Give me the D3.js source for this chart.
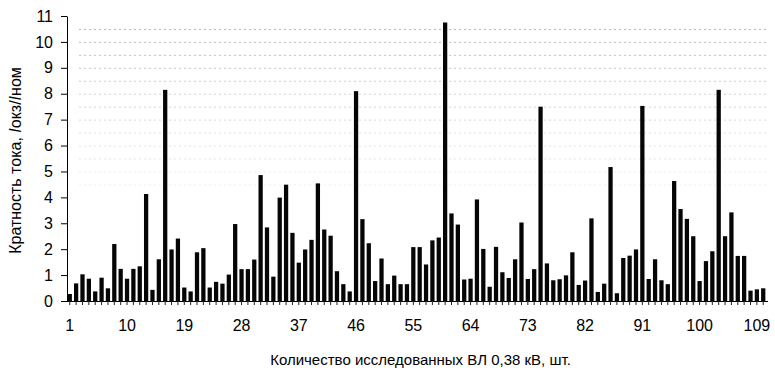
<!DOCTYPE html>
<html>
<head>
<meta charset="utf-8">
<script src="https://cdn.jsdelivr.net/npm/d3@7"></script>
<style>
    body { margin: 0; background: #fff; }
    svg { display: block; font-family: "Liberation Sans", Arial, sans-serif; }
</style>
</head>
<body>
<div id="chart"></div>
<script>
const width = 775,
    height = 372;
const margin = { top: 16, right: 9, bottom: 71, left: 67 };

// measured lines 1..110, multiplicity of short-circuit current
const lineNumbers = d3.range(1, 111);
const ratios = [
    0.27, 0.68, 1.03, 0.86, 0.37, 0.90, 0.49, 2.20, 1.24, 0.86,
    1.24, 1.34, 4.13, 0.43, 1.61, 8.15, 1.99, 2.41, 0.52, 0.37,
    1.88, 2.04, 0.52, 0.74, 0.67, 1.02, 2.97, 1.23, 1.23, 1.60,
    4.86, 2.84, 0.94, 3.99, 4.49, 2.63, 1.48, 1.99, 2.36, 4.54,
    2.76, 2.52, 1.15, 0.65, 0.37, 8.10, 3.16, 2.23, 0.77, 1.64,
    0.65, 0.98, 0.65, 0.65, 2.08, 2.08, 1.41, 2.34, 2.45, 10.75,
    3.38, 2.95, 0.83, 0.86, 3.92, 2.01, 0.55, 2.09, 1.11, 0.89,
    1.61, 3.03, 0.85, 1.23, 7.50, 1.45, 0.80, 0.84, 0.99, 1.88,
    0.62, 0.79, 3.19, 0.35, 0.67, 5.17, 0.30, 1.66, 1.75, 1.99,
    7.53, 0.85, 1.61, 0.80, 0.65, 4.63, 3.55, 3.17, 2.50, 0.77,
    1.54, 1.92, 8.15, 2.50, 3.42, 1.74, 1.74, 0.40, 0.45, 0.49
];
const xTickValues = [1, 10, 19, 28, 37, 46, 55, 64, 73, 82, 91, 100, 109];
const yTickValues = d3.range(0, 12);
const gridValues = [4.5, 5, 5.5, 6, 6.5, 7, 7.5, 8, 8.5, 9, 9.5, 10, 10.5];

const data = lineNumbers.map((n, i) => ({ n: n, v: ratios[i] }));

const svg = d3.select("#chart")
    .append("svg")
    .attr("width", width)
    .attr("height", height);

const x = d3.scaleBand()
    .domain(lineNumbers)
    .range([margin.left, width - margin.right])
    .paddingInner(0.33)
    .paddingOuter(0.1);

const y = d3.scaleLinear()
    .domain([0, 11])
    .range([height - margin.bottom, margin.top]);

// faint dotted grid (the scan only keeps the upper ones)
const gridOpacity = d3.scaleLinear().domain([4.5, 10.5]).range([0.12, 0.6]);
svg.append("g")
    .selectAll("line")
    .data(gridValues)
    .join("line")
    .attr("x1", margin.left + 12)
    .attr("x2", width - margin.right)
    .attr("y1", d => y(d) + 0.5)
    .attr("y2", d => y(d) + 0.5)
    .attr("stroke", "#888")
    .attr("stroke-dasharray", "2,3")
    .attr("stroke-opacity", d => gridOpacity(d));

// bars
svg.append("g")
    .selectAll("rect")
    .data(data)
    .join("rect")
    .attr("x", d => x(d.n))
    .attr("width", x.bandwidth())
    .attr("y", d => y(d.v))
    .attr("height", d => y(0) - y(d.v))
    .attr("fill", "#050505");

// x axis: small tick on every line, labels every 9th
const xAxis = svg.append("g")
    .attr("transform", `translate(0, ${y(0)})`)
    .call(d3.axisBottom(x).tickValues(lineNumbers).tickSize(4).tickSizeOuter(0).tickFormat(""));
xAxis.select(".domain").attr("stroke", "#000").attr("d", `M${margin.left},0.5H${width - margin.right + 2}`);
xAxis.selectAll(".tick line").attr("stroke", "#222");

svg.append("g")
    .selectAll("text")
    .data(xTickValues)
    .join("text")
    .attr("x", d => x(d) + x.bandwidth() / 2)
    .attr("y", y(0) + 19)
    .attr("dy", "0.71em")
    .attr("text-anchor", "middle")
    .style("font-size", "16px")
    .attr("fill", "#000")
    .text(d => d);

// y axis
const yAxis = svg.append("g")
    .attr("transform", `translate(${margin.left}, 0)`)
    .call(d3.axisLeft(y).tickValues(yTickValues).tickSize(6).tickPadding(8).tickSizeOuter(0));
yAxis.select(".domain").attr("stroke", "#000");
yAxis.selectAll(".tick line").attr("stroke", "#000");
yAxis.selectAll(".tick text")
    .style("font-size", "16px")
    .style("font-family", "'Liberation Sans', Arial, sans-serif")
    .attr("fill", "#000");

// axis titles
const yTitle = svg.append("text")
    .attr("transform", `translate(21, ${(margin.top + y(0)) / 2 + 2}) rotate(-90)`)
    .attr("text-anchor", "middle")
    .style("font-size", "16px")
    .attr("fill", "#000");
yTitle.append("tspan").text("Кратность тока, ");
yTitle.append("tspan").style("font-style", "italic").text("I");
yTitle.append("tspan").text("окз/");
yTitle.append("tspan").style("font-style", "italic").text("I");
yTitle.append("tspan").text("ном");

svg.append("text")
    .attr("x", (margin.left + width - margin.right) / 2 + 4)
    .attr("y", 365)
    .attr("text-anchor", "middle")
    .style("font-size", "15px")
    .attr("fill", "#000")
    .text("Количество исследованных ВЛ 0,38 кВ, шт.");
</script>
</body>
</html>
